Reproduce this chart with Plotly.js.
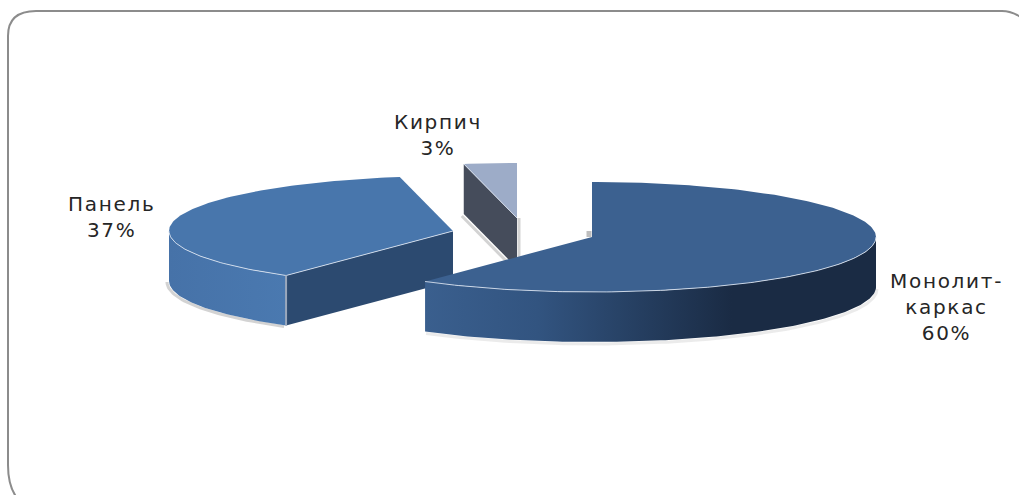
<!DOCTYPE html>
<html lang="ru">
<head>
<meta charset="utf-8">
<title>Структура по типу конструкции</title>
<script src="https://cdn.plot.ly/plotly-3.0.1.min.js"></script>
<style>
  html, body { margin: 0; padding: 0; background: #fff; overflow: hidden; }
  #chart { width: 1019px; height: 495px; }
  .annotation-text { letter-spacing: 1.7px; }
</style>
</head>
<body>
<div id="chart"></div>
<script>
// Shares of each construction type, in percent, clockwise from 12 o'clock
const categories = ['Монолит-<br>каркас', 'Панель', 'Кирпич'];
const shares = [60, 37, 3];

// Exploded slice apexes on the drawing plane, in pixels
const apexX = [592, 453, 517];
const apexY = [237, 231, 218];
const labelX = [946, 111, 438];
const labelY = [307, 217, 135];

const topColors = ['#3C6190', '#4876AC', '#9DACC8'];
const cutColors = ['#2C4A70', '#2C4A70', '#454C5B'];
const wallScales = [
  [[0, '#3A5F8E'], [0.25, '#325480'], [0.68, '#1A2B44'], [1, '#1A2B44']],
  [[0, '#4672A8'], [1, '#4A79B0']],
  null
];

// Projection of the tilted disc
const RX = 284, RY = 55, DEPTH = 50;
const RAD = Math.PI / 180;

function point(i, deg, drop) {
  return [apexX[i] + RX * Math.sin(deg * RAD), apexY[i] - RY * Math.cos(deg * RAD) + drop];
}
function arc(i, from, to, drop) {
  const pts = [];
  const steps = Math.max(2, Math.ceil(Math.abs(to - from)));
  for (let s = 0; s <= steps; s++) pts.push(point(i, from + (to - from) * s / steps, drop));
  return pts;
}
function poly(pts, extra) {
  return Object.assign({
    type: 'scatter', mode: 'lines', hoverinfo: 'skip', showlegend: false,
    x: pts.map(p => p[0]), y: pts.map(p => p[1]),
    line: { width: 0 }
  }, extra);
}
function filled(pts, color) {
  return poly(pts.concat([pts[0]]), { fill: 'toself', fillcolor: color });
}
function edge(pts, color, width) {
  return poly(pts, { line: { color: color, width: width } });
}
function shifted(pts, dx, dy) {
  return pts.map(p => [p[0] + dx, p[1] + dy]);
}

// Cumulative start and end angle of every slice
const total = shares.reduce((a, b) => a + b, 0);
const spans = [];
shares.reduce((acc, v, i) => {
  spans[i] = [acc / total * 360, (acc + v) / total * 360];
  return acc + v;
}, 0);

const traces = [];
const PALE = 'rgba(222,230,242,0.85)';
const SOFT = 'rgba(110,110,110,0.3)';
const FAINT = 'rgba(110,110,110,0.14)';

// Brick slice: only its cut face and the top are visible
{
  const i = 2, a = spans[i][0], b = spans[i][1];
  const apex = [apexX[i], apexY[i]];
  const apexLow = [apex[0], apex[1] + DEPTH];
  const cut = [point(i, a, 0), apex, apexLow, point(i, a, DEPTH)];
  traces.push(edge(shifted([point(i, a, DEPTH), apexLow], -2, 2), SOFT, 3));
  traces.push(edge(shifted([apex, apexLow], 2, 0), SOFT, 3));
  traces.push(filled(cut, cutColors[i]));
  traces.push(filled([apex].concat(arc(i, a, b, 0)), topColors[i]));
  traces.push(edge([point(i, a, 0), apex], PALE, 1));
}

// Panel slice: rim, cut face, top
{
  const i = 1, a = spans[i][0], b = spans[i][1];
  const apex = [apexX[i], apexY[i]];
  const rimEnd = Math.min(b, 270);
  const rimTop = arc(i, a, rimEnd, 0);
  const rimLow = arc(i, a, rimEnd, DEPTH);
  traces.push(edge(shifted(rimLow, -2, 1), SOFT, 3));
  traces.push(filled(rimTop.concat(rimLow.slice().reverse()), topColors[i]));
  traces[traces.length - 1].fillgradient = { type: 'horizontal', colorscale: wallScales[i] };
  traces.push(filled([apex, point(i, a, 0), point(i, a, DEPTH), [apex[0], apex[1] + DEPTH]], cutColors[i]));
  traces.push(filled([apex].concat(arc(i, a, b, 0)), topColors[i]));
  traces.push(edge(rimTop, PALE, 1));
  traces.push(edge([point(i, a, 0), apex], PALE, 1));
  traces.push(edge([point(i, a, 0), point(i, a, DEPTH)], '#9AA8BC', 2));
}

// Monolith slice, drawn last so it covers the foot of the brick slice
{
  const i = 0, a = spans[i][0], b = spans[i][1];
  const apex = [apexX[i], apexY[i]];
  const rimStart = Math.max(a, 90);
  const rimTop = arc(i, rimStart, b, 0);
  const rimLow = arc(i, rimStart, b, DEPTH);
  traces.push(edge(shifted(rimLow, 1, 2), FAINT, 3));
  traces.push(filled(rimTop.concat(rimLow.slice().reverse()), topColors[i]));
  traces[traces.length - 1].fillgradient = { type: 'horizontal', colorscale: wallScales[i] };
  traces.push(edge(shifted([apex, [apex[0], apex[1] - 6]], -3, 0), 'rgba(110,110,110,0.45)', 5));
  traces.push(filled([apex].concat(arc(i, a, b, 0)), topColors[i]));
  traces.push(edge(rimTop, PALE, 1));
}

const annotations = categories.map((name, i) => ({
  x: labelX[i], y: labelY[i], xref: 'x', yref: 'y',
  text: name + '<br>' + shares[i] + '%',
  showarrow: false, xanchor: 'center', yanchor: 'middle', align: 'center',
  font: { family: '"DejaVu Sans", sans-serif', size: 20, color: '#262626' }
}));

const layout = {
  width: 1019, height: 495,
  margin: { l: 0, r: 0, t: 0, b: 0 },
  paper_bgcolor: '#ffffff', plot_bgcolor: '#ffffff',
  showlegend: false,
  xaxis: { range: [0, 1019], visible: false, fixedrange: true },
  yaxis: { range: [495, 0], visible: false, fixedrange: true },
  annotations: annotations,
  shapes: [{
    type: 'path', layer: 'below',
    path: 'M 17,498 Q 8,486 8,465 L 8,36 Q 8,11 36,11 L 1002,11 Q 1012,11 1022,18',
    line: { color: '#8C8C8C', width: 2 }
  }]
};

Plotly.newPlot('chart', traces, layout, { staticPlot: true, displayModeBar: false });
</script>
</body>
</html>
